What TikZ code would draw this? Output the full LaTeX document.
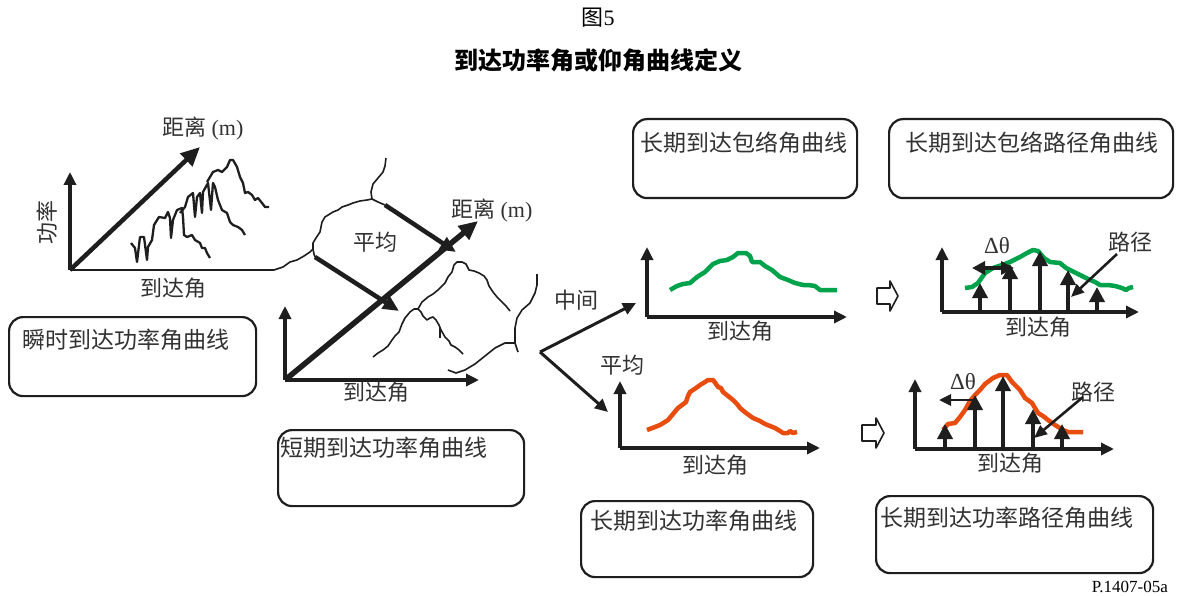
\documentclass[tikz,border=0pt]{standalone}
\usepackage{fontspec}
\setmainfont{Liberation Serif}
\newfontfamily\cjk{Noto Sans CJK SC}
\usetikzlibrary{arrows.meta}
\definecolor{ink}{RGB}{30,30,30}
\definecolor{txt}{RGB}{50,50,50}
\definecolor{grn}{RGB}{0,163,75}
\definecolor{org}{RGB}{232,76,14}
\begin{document}
\begin{tikzpicture}[x=1pt,y=-1pt,line join=round,
 ax/.style={draw=ink,line width=3.5pt,-{Triangle[length=13pt,width=12pt]}},
 bigax/.style={draw=ink,line width=5.5pt,-{Triangle[length=19pt,width=17pt]}},
 patharr/.style={draw=ink,line width=3.6pt,-{Triangle[length=15pt,width=15pt]}},
 ptr/.style={draw=ink,line width=2.6pt,-{Triangle[length=13pt,width=11pt]}},
 thinl/.style={draw=ink,line width=1.6pt},
 mtn/.style={draw=ink,line width=2.3pt},
 gcurve/.style={draw=grn,line width=4.5pt},
 ocurve/.style={draw=org,line width=4.5pt},
 lbl/.style={text=txt,font=\cjk\fontsize{22}{24}\selectfont,inner sep=0pt},
 glbl/.style={text=txt,font=\fontsize{23}{25}\selectfont,inner sep=0pt},
 blbl/.style={text=txt,font=\cjk\fontsize{23}{26}\selectfont,inner sep=0pt,anchor=west},
 sbox/.style={draw=ink,line width=2.2pt,rounded corners=14pt,inner sep=0pt,anchor=north west},
 hollow/.style={draw=ink,line width=1.6pt},
]
\fill[white] (0,0) rectangle (1188,596);
\useasboundingbox (0,0) rectangle (1188,596);

% title
\node[font=\fontsize{22}{24}\selectfont] (fig) at (598,18) {{\cjk 图}5};
\node[font=\cjk\bfseries\fontsize{24}{26}\selectfont] (title) at (598,60) {到达功率角或仰角曲线定义};

% boxes
\node[sbox,minimum width=247pt,minimum height=79pt] (b1) at (8,316) {};
\node[blbl] (t1) at (22,340) {瞬时到达功率角曲线};
\node[sbox,minimum width=246pt,minimum height=76pt] (b2) at (277,429) {};
\node[blbl] (t2) at (280,448) {短期到达功率角曲线};
\node[sbox,minimum width=224pt,minimum height=79pt] (b3) at (632,118) {};
\node[blbl] (t3) at (640,143) {长期到达包络角曲线};
\node[sbox,minimum width=284pt,minimum height=79pt] (b4) at (888,118) {};
\node[blbl] (t4) at (905,143) {长期到达包络路径角曲线};
\node[sbox,minimum width=232pt,minimum height=76pt] (b5) at (580,500) {};
\node[blbl] (t5) at (590,521) {长期到达功率角曲线};
\node[sbox,minimum width=277pt,minimum height=77pt] (b6) at (875,495) {};
\node[blbl] (t6) at (880,518) {长期到达功率路径角曲线};

% left panel
\coordinate (L0) at (70,270);
\coordinate (Ly) at (70,172);
\coordinate (Lz) at (200,147);
\coordinate (Lx) at (274,270);
\draw[ax,line width=4pt] (L0)--(Ly);
\draw[bigax,line width=4.5pt] (L0)--(Lz);
\draw[draw=ink,line width=2.8pt] (L0)--(Lx);
\node[lbl] (ld) at (203,129) {距离 {\rmfamily (m)}};
\node[lbl,rotate=90] (lp) at (47,222) {功率};
\node[lbl] (la) at (173,288) {到达角};
\draw[mtn] (131,243)--(135,248)--(137,262)--(140,237)--(144,237)--(147,260)--(148,247)--(152,240)--(154,225)--(159,217)--(165,218)--(168,212)--(170,218)--(171,238)--(173,220)--(177,210)--(182,208)--(183,217)--(184,235)--(187,237)--(192,235)--(195,240)--(200,243)--(202,248)--(205,248)--(207,253)--(210,258);
\draw[mtn] (180,213)--(185,207)--(188,197)--(193,193)--(195,217)--(197,197)--(200,193)--(202,213)--(203,192)--(208,183)--(211,210)--(213,183)--(215,187)--(218,200)--(222,210)--(227,213)--(230,222)--(233,225)--(238,227)--(242,230)--(245,235);
\draw[mtn] (207,182)--(213,172)--(218,170)--(222,172)--(227,167)--(230,160)--(233,160)--(237,167)--(240,177)--(243,183)--(245,193)--(248,192)--(252,195)--(255,200)--(258,198)--(262,203)--(265,207)--(269,207);

% middle panel
\coordinate (M0) at (285,380);
\coordinate (My) at (285,306);
\coordinate (Mz) at (478,221);
\coordinate (Mx) at (479,380);
\draw[ax,line width=4pt] (M0)--(My);
\draw[ax,line width=4pt] (M0)--(Mx);
\draw[bigax] (M0)--(Mz);
\node[lbl] (md) at (492,211) {距离 {\rmfamily (m)}};
\node[lbl] (mp) at (375,242) {平均};
\node[lbl] (ma) at (376,392) {到达角};
% cloud outline
\draw[thinl] (Lx)--(283,267)--(290,262)--(297,260)--(304,256)--(310,252)--(313,249)--(313,243)--(316,238)--(320,232)--(322,222)--(325,217)--(333,212)--(338,210)--(342,207)--(348,205)--(353,203)--(360,201)--(367,200)--(372,199);
\draw[thinl] (372,199)--(371,192)--(373,184)--(378,178)--(383,172)--(385,166)--(386,158);
\coordinate (a1s) at (385,205);
\coordinate (a1e) at (456,252);
\coordinate (a2s) at (315,257);
\coordinate (a2e) at (399,311);
\draw[thinl] (372,199)--(378,202)--(a1s);
\draw[thinl] (313,249)--(314,254)--(a2s);
\draw[bigax,line width=4.5pt,-{Triangle[length=16pt,width=14pt]}] (a1s)--(a1e);
\draw[bigax,line width=4.5pt,-{Triangle[length=16pt,width=14pt]}] (a2s)--(a2e);
\draw[thinl] (537,274)--(537,285)--(535,293)--(530,303)--(522,310)--(517,318)--(515,328)--(515,343)--(518,352);
\draw[thinl] (515,343)--(505,343)--(495,348)--(485,356)--(475,364)--(465,370)--(456,373)--(448,370);
\draw[thinl] (373,357)--(378,353)--(383,350)--(388,346)--(392,340)--(395,336)--(399,332)--(402,324)--(405,318)--(410,312)--(414,309)--(418,309)--(421,312)--(423,316)--(427,320)--(430,318)--(433,317)--(436,320)--(439,325)--(441,330)--(445,337)--(449,341)--(451,345)--(455,347)--(459,350)--(463,354);
\draw[thinl] (418,309)--(422,302)--(428,297)--(433,294)--(438,290)--(441,287)--(445,283)--(448,277)--(452,272)--(454,265)--(457,262)--(462,262)--(466,264)--(469,270)--(474,271)--(479,273)--(484,276)--(487,280)--(489,286)--(493,292)--(497,297)--(502,302)--(506,306)--(510,311);
\draw[thinl] (440,327)--(440,338);

% split
\coordinate (sp) at (540,352);
\coordinate (spu) at (636,303);
\coordinate (spd) at (608,412);
\draw[ax,line width=3pt] (sp)--(spu);
\draw[ax,line width=3pt] (sp)--(spd);
\node[lbl] (sm) at (576,300) {中间};
\node[lbl] (sa) at (622,365) {平均};

% graph 1 (median)
\coordinate (g1o) at (647,317);
\coordinate (g1y) at (647,247);
\coordinate (g1x) at (847,317);
\draw[ax] (g1o)--(g1y);
\draw[ax] (g1o)--(g1x);
\node[lbl] (g1l) at (740,331) {到达角};
\draw[gcurve] (670,290)--(677,286)--(683,284)--(690,283)--(697,277)--(705,272)--(713,264)--(720,261)--(727,260)--(733,257)--(738,253)--(746,253)--(750,256)--(752,262)--(760,262)--(765,266)--(772,270)--(780,277)--(788,280)--(795,283)--(803,285)--(808,285)--(815,286)--(820,290)--(827,290)--(837,290);

% graph 2 (mean)
\coordinate (g2o) at (620,448);
\coordinate (g2y) at (620,381);
\coordinate (g2x) at (820,448);
\draw[ax] (g2o)--(g2y);
\draw[ax] (g2o)--(g2x);
\node[lbl] (g2l) at (715,465) {到达角};
\draw[ocurve] (647,430)--(655,427)--(660,425)--(668,420)--(673,414)--(678,408)--(686,402)--(688,396)--(690,392)--(696,388)--(700,385)--(705,382)--(708,380)--(713,380)--(716,384)--(718,387)--(721,388)--(723,392)--(728,396)--(733,400)--(737,404)--(740,408)--(746,413)--(753,418)--(760,421)--(765,424)--(770,426)--(775,428)--(780,431)--(783,433)--(788,433)--(790,431)--(793,433)--(797,432);

% hollow arrows
\draw[hollow] (877,288)--(890,288)--(890,281)--(898,296)--(890,311)--(890,304)--(877,304)--cycle;
\draw[hollow] (862,425)--(876,425)--(876,418)--(884,433)--(876,448)--(876,441)--(862,441)--cycle;

% graph 3 (envelope paths)
\coordinate (g3o) at (942,312);
\coordinate (g3y) at (942,247);
\coordinate (g3x) at (1139,312);
\draw[ax] (g3o)--(g3y);
\draw[ax] (g3o)--(g3x);
\node[lbl] (g3l) at (1038,327) {到达角};
\draw[gcurve] (965,288)--(972,287)--(978,283)--(985,273)--(993,268)--(1002,265)--(1010,262)--(1020,257)--(1027,253)--(1033,250)--(1038,251)--(1044,258)--(1050,262)--(1060,263)--(1066,268)--(1072,271)--(1080,275)--(1088,279)--(1095,282)--(1100,285)--(1108,285)--(1115,286)--(1122,288)--(1126,290)--(1129,288)--(1133,287);
\foreach \x/\t in {980/283,1010/264,1040/251,1068/270,1097/287}{
  \draw[patharr] (\x,312)--(\x,\t);
}
\coordinate (d1l) at (972,268);
\coordinate (d1r) at (1014,268);
\draw[draw=ink,line width=3.4pt,{Triangle[length=13pt,width=13pt]}-{Triangle[length=13pt,width=13pt]}] (d1l)--(d1r);
\node[glbl] (g3d) at (997,246) {Δθ};
\node[lbl] (g3p) at (1130,242) {路径};
\coordinate (p1s) at (1117,254);
\coordinate (p1e) at (1071,297);
\draw[ptr] (p1s)--(p1e);

% graph 4 (power paths)
\coordinate (g4o) at (915,449);
\coordinate (g4y) at (915,379);
\coordinate (g4x) at (1114,449);
\draw[ax] (g4o)--(g4y);
\draw[ax] (g4o)--(g4x);
\node[lbl] (g4l) at (1010,463) {到达角};
\draw[ocurve] (943,430)--(948,424)--(955,423)--(960,417)--(965,410)--(970,401)--(975,395)--(980,390)--(985,384)--(993,378)--(1000,375)--(1007,375)--(1012,382)--(1016,386)--(1020,390)--(1025,398)--(1032,403)--(1035,408)--(1038,413)--(1043,416)--(1048,420)--(1055,425)--(1063,430)--(1068,432)--(1073,432)--(1083,432);
\foreach \x/\t in {945/424,975/395,1003/376,1033/409,1062/424}{
  \draw[patharr] (\x,449)--(\x,\t);
}
\coordinate (d2r) at (975,400);
\coordinate (d2l) at (939,400);
\draw[draw=ink,line width=2.8pt,-{Triangle[length=12pt,width=11pt]}] (d2r)--(d2l);
\node[glbl] (g4d) at (963,382) {Δθ};
\node[lbl] (g4p) at (1093,392) {路径};
\coordinate (p2s) at (1083,397);
\coordinate (p2e) at (1034,438);
\draw[ptr] (p2s)--(p2e);

\node[font=\fontsize{17}{19}\selectfont,anchor=east,inner sep=0pt] (ref) at (1168,587) {P.1407-05a};
\end{tikzpicture}
\end{document}
